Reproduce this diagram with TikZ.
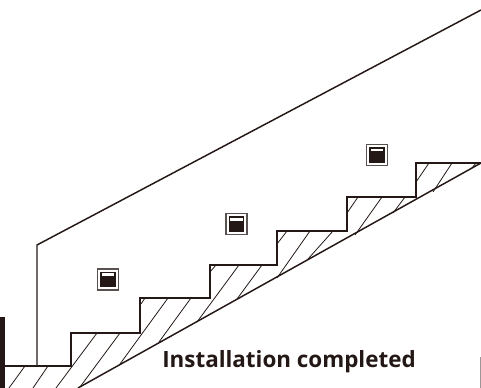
\documentclass[tikz,border=0pt]{standalone}
\usepackage{fontspec}
\setmainfont{Open Sans}
\definecolor{ink}{HTML}{231815}
\tikzset{
  outline/.style={draw=ink,line width=1.1pt,line join=miter},
  hatchline/.style={draw=ink,line width=0.6pt},
  swouter/.style={draw=ink!75,line width=1.1pt,fill=white},
  swinner/.style={draw=ink,line width=1.1pt,fill=white},
  swfill/.style={fill=ink},
  caption/.style={text=ink,inner sep=0pt,anchor=base west}
}
\newcommand{\switch}[2]{%
  \draw[swouter] (#1,#2) rectangle ++(21,21);
  \draw[swinner] (#1+3.5,#2+3.5) rectangle ++(14,14);
  \fill[swfill] (#1+3.5,#2+7) rectangle ++(14,10.5);
}
\begin{document}
\begin{tikzpicture}[x=0.75pt,y=-0.75pt]
\useasboundingbox (0,0) rectangle (481,388);
% hatch
\foreach \a/\b/\c/\d in {
 25/366/9/388, 48/366/33/388, 97/333/56/388, 120/333/80/387,
 145/298/141/304, 168/298/120/364, 191/298/159/342,
 216/265/210/272, 239/265/197/322, 262/265/237/299,
 287/231/277/244, 310/231/277/278, 333/231/308/259,
 358/197/347/213, 382/197/355/235, 405/197/393/213,
 429/163/416/182, 452/163/433/192, 476/163/472/168}
 {\draw[hatchline] (\a,\b) -- (\c,\d);}
% stairs
\draw[outline] (0,366) -- (71,366) -- (71,333) -- (140,333) -- (140,298) -- (210,298) -- (210,265) -- (277,265) -- (277,231) -- (347,231) -- (347,197) -- (416,197) -- (416,163) -- (481,163);
\draw[outline] (78,388) -- (481,163);
% wall
\draw[outline] (37,366) -- (37,245) -- (481,10);
% bars
\fill[ink] (0,317) rectangle (5,388);
\draw[ink!45,line width=0.5pt] (480.5,357) -- (480.5,388);
% switches
\switch{97.5}{269}
\switch{226}{213.5}
\switch{366.5}{144.5}
\node[caption,font=\bfseries\fontsize{16.8pt}{19pt}\selectfont] (cap) at (162,367) {Installation completed};
\end{tikzpicture}
\end{document}
